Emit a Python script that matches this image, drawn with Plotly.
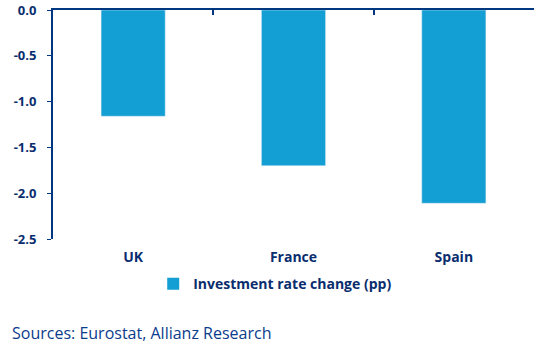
import plotly.graph_objects as go

categories = ["UK", "France", "Spain"]
values = [-1.16, -1.70, -2.11]
series_name = "Investment rate change (pp)"
y_ticks = [0.0, -0.5, -1.0, -1.5, -2.0, -2.5]
source_text = "Sources: Eurostat, Allianz Research"

NAVY = "#0a2d6e"
LINE = "#003781"
BAR = "#139fd3"
FONT = "Open Sans"

fig = go.Figure()
fig.add_trace(go.Bar(x=categories, y=values, name=series_name,
                     marker=dict(color=BAR, line=dict(width=0)),
                     xaxis="x", yaxis="y"))
# invisible copy to drive the top axis (boundary ticks)
fig.add_trace(go.Bar(x=categories, y=values, showlegend=False, hoverinfo="skip",
                     marker=dict(color="rgba(0,0,0,0)"), xaxis="x2", yaxis="y"))

fig.update_layout(
    width=550, height=354,
    margin=dict(l=53, r=16, t=10, b=115, autoexpand=False),
    paper_bgcolor="white", plot_bgcolor="white",
    font=dict(family=FONT, color=NAVY, size=13),
    bargap=0.6, barmode="overlay",
    showlegend=True,
    legend=dict(orientation="h", x=0.462, xanchor="center", y=-0.197, yanchor="middle",
                font=dict(family=FONT, size=14, color=NAVY, weight="bold"),
                itemwidth=30, bgcolor="rgba(0,0,0,0)"),
    xaxis=dict(type="category", categoryarray=categories, showline=False, ticks="",
               showgrid=False, zeroline=False, automargin=False,
               tickfont=dict(family=FONT, size=14, color=NAVY, weight="bold"),
               ticklabelstandoff=8),
    xaxis2=dict(type="category", categoryarray=categories, overlaying="x", side="top",
                showline=True, linecolor=LINE, linewidth=2, ticks="inside",
                tickson="boundaries", ticklen=5, tickcolor=LINE, tickwidth=2,
                showticklabels=False, showgrid=False, zeroline=False, matches="x",
                automargin=False),
    yaxis=dict(range=[-2.5, 0], tickvals=y_ticks, ticktext=[f"{v:.1f}" for v in y_ticks],
               showline=True, linecolor=LINE, linewidth=2, ticks="outside", ticklen=4,
               tickcolor=LINE, tickwidth=1, showgrid=False, zeroline=False,
               automargin=False,
               tickfont=dict(family=FONT, size=13, color=NAVY, weight="bold"),
               ticklabelstandoff=8),
    annotations=[dict(text=source_text, xref="paper", yref="paper", x=-0.089, y=-0.41,
                      xanchor="left", yanchor="middle", showarrow=False,
                      font=dict(family=FONT, size=16, color="#0b3c8c"))],
)

fig.write_html("out.html")
